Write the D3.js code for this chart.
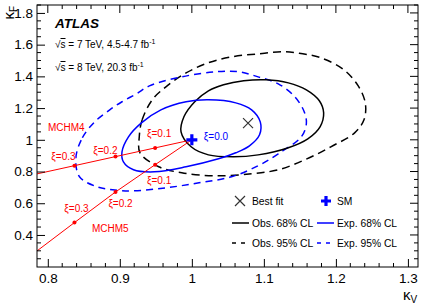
<!DOCTYPE html>
<html>
<head>
<meta charset="utf-8">
<script src="https://cdn.jsdelivr.net/npm/d3@7"></script>
<style>
  body { margin: 0; background: #fff; }
  svg text { font-family: 'Liberation Sans', Arial, Helvetica, sans-serif; }
</style>
</head>
<body>
<div class="chart"></div>
<script>
const width = 425;
const height = 305;

// contours, [kappaV, kappaF]
const obs68 = [[0.985,1.050],[0.989,1.145],[1.004,1.240],[1.023,1.309],[1.044,1.347],[1.072,1.372],
  [1.103,1.378],[1.134,1.359],[1.159,1.315],[1.177,1.246],[1.183,1.170],[1.178,1.082],[1.161,1.006],
  [1.134,0.950],[1.092,0.905],[1.058,0.893],[1.023,0.905],[0.999,0.956]];
const obs95 = [[0.927,1.019],[0.931,1.126],[0.945,1.252],[0.964,1.334],[0.992,1.422],[1.023,1.486],
  [1.055,1.523],[1.092,1.542],[1.127,1.555],[1.154,1.542],[1.179,1.517],[1.210,1.445],[1.231,1.340],
  [1.241,1.227],[1.239,1.126],[1.226,1.044],[1.193,0.956],[1.157,0.874],[1.120,0.811],[1.083,0.786],
  [1.033,0.773],[0.986,0.792],[0.954,0.830],[0.928,0.918]];
const exp68 = [[0.903,0.924],[0.912,1.019],[0.930,1.107],[0.957,1.189],[0.992,1.240],[1.023,1.252],
  [1.061,1.233],[1.083,1.189],[1.095,1.113],[1.094,1.032],[1.080,0.962],[1.061,0.918],[1.037,0.880],
  [0.992,0.830],[0.948,0.798],[0.919,0.811],[0.905,0.861]];
const exp95 = [[0.839,0.887],[0.848,1.013],[0.865,1.113],[0.886,1.189],[0.903,1.240],[0.923,1.290],
  [0.941,1.340],[0.986,1.397],[1.033,1.429],[1.065,1.429],[1.092,1.397],[1.120,1.353],[1.143,1.271],
  [1.156,1.177],[1.159,1.101],[1.152,1.019],[1.120,0.912],[1.092,0.836],[1.055,0.767],[1.010,0.729],
  [0.964,0.697],[0.917,0.678],[0.890,0.685],[0.868,0.704],[0.844,0.767]];

const bestFit = [1.078, 1.105];
const smPoint = [1.0, 1.0];

// composite Higgs benchmark lines [kappaV, kappaF, xi]
const mchm4 = [[1.0,1.0,0.0],[0.949,0.949,0.1],[0.894,0.894,0.2],[0.837,0.837,0.3],[0.76,0.76,null]];
const mchm5 = [[1.0,1.0,0.0],[0.949,0.843,0.1],[0.894,0.671,0.2],[0.837,0.478,0.3],[0.775,0.265,null]];

const xTicks = [0.8, 0.9, 1, 1.1, 1.2, 1.3];
const yTicks = [0.4, 0.6, 0.8, 1, 1.2, 1.4, 1.6, 1.8];

const contours = [
  { pts: obs95, color: '#000', dash: '8,5', label: 'Obs. 95% CL' },
  { pts: exp95, color: '#0000ff', dash: '7,5', label: 'Exp. 95% CL' },
  { pts: obs68, color: '#000', dash: null, label: 'Obs. 68% CL' },
  { pts: exp68, color: '#0000ff', dash: null, label: 'Exp. 68% CL' }
];

const frameL = 37, frameR = 418, frameT = 5, frameB = 267;

const svg = d3.select('.chart').append('svg')
  .attr('xmlns', 'http://www.w3.org/2000/svg')
  .attr('width', width)
  .attr('height', height);

const x = d3.scaleLinear().domain([0.785, 1.314]).range([frameL, frameR]);
const y = d3.scaleLinear().domain([0.198, 1.85]).range([frameB, frameT]);

svg.append('clipPath').attr('id', 'clip')
  .append('rect').attr('x', frameL).attr('y', frameT)
  .attr('width', frameR - frameL).attr('height', frameB - frameT);

const plot = svg.append('g').attr('clip-path', 'url(#clip)');

const closed = d3.line()
  .x((d) => x(d[0]))
  .y((d) => y(d[1]))
  .curve(d3.curveCatmullRomClosed.alpha(0.5));

contours.forEach((c) => {
  plot.append('path')
    .attr('d', closed(c.pts))
    .attr('fill', 'none')
    .attr('stroke', c.color)
    .attr('stroke-width', 1.5)
    .attr('stroke-dasharray', c.dash);
});

// red model lines
const red = '#ff0000';
const modelLine = d3.line().x((d) => x(d[0])).y((d) => y(d[1]));
[mchm4, mchm5].forEach((m) => {
  plot.append('path').attr('d', modelLine(m))
    .attr('fill', 'none').attr('stroke', red).attr('stroke-width', 1);
  plot.selectAll(null)
    .data(m.filter((d) => d[2] !== null && d[2] > 0))
    .enter().append('circle')
    .attr('cx', (d) => x(d[0])).attr('cy', (d) => y(d[1]))
    .attr('r', 2).attr('fill', red);
});

// model labels
const redText = (tx, ty, s) => svg.append('text').attr('x', tx).attr('y', ty)
  .attr('fill', red).attr('font-size', 10).text(s);
redText(48, 131, 'MCHM4');
redText(92, 232, 'MCHM5');
const xiLabel = (d, dx, dy, anchor) => svg.append('text')
  .attr('x', x(d[0]) + dx).attr('y', y(d[1]) + dy)
  .attr('text-anchor', anchor)
  .attr('fill', red).attr('font-size', 10)
  .text('\u03be=' + d[2].toFixed(1));
xiLabel(mchm4[1], 4, -11, 'middle');
xiLabel(mchm4[2], 2, -3, 'end');
xiLabel(mchm4[3], -11, -6, 'middle');
xiLabel(mchm5[1], 4, 19, 'middle');
xiLabel(mchm5[2], 5, 15, 'middle');
xiLabel(mchm5[3], 2, -11, 'middle');

svg.append('text').attr('x', x(smPoint[0]) + 12).attr('y', y(smPoint[1]) + 0)
  .attr('fill', '#0000ff').attr('font-size', 10).text('\u03be=0.0');

// markers
const cross = (g, cx, cy, s) => {
  g.append('path')
    .attr('d', `M${cx - s},${cy - s}L${cx + s},${cy + s}M${cx - s},${cy + s}L${cx + s},${cy - s}`)
    .attr('stroke', '#333').attr('stroke-width', 1.2).attr('fill', 'none');
};
const plus = (g, cx, cy, s) => {
  g.append('path')
    .attr('d', `M${cx - s},${cy}L${cx + s},${cy}M${cx},${cy - s}L${cx},${cy + s}`)
    .attr('stroke', '#0000ff').attr('stroke-width', 3.2).attr('fill', 'none');
};
cross(svg, x(bestFit[0]), y(bestFit[1]), 5);
plus(svg, x(smPoint[0]), y(smPoint[1]), 5.5);

// axes
const xAxis = d3.axisBottom(x).tickValues(xTicks).tickSize(-8).tickPadding(6)
  .tickFormat((d) => d3.format('')(d));
const gx = svg.append('g').attr('transform', `translate(0,${frameB})`).call(xAxis);
const yAxis = d3.axisLeft(y).tickValues(yTicks).tickSize(-8).tickPadding(4)
  .tickFormat((d) => d3.format('')(d));
const gy = svg.append('g').attr('transform', `translate(${frameL},0)`).call(yAxis);
[gx, gy].forEach((g) => {
  g.select('.domain').remove();
  g.selectAll('text').attr('font-size', 13.5).attr('fill', '#000')
    .attr('font-family', "'Liberation Sans', Arial, sans-serif");
  g.selectAll('line').attr('stroke', '#000');
});

const xMinor = d3.range(0.8, 1.3101, 0.02).filter((v) => Math.abs(Math.round(v * 10) - v * 10) > 1e-6);
const yMinor = d3.range(0.2, 1.851, 0.05).filter((v) => Math.abs(Math.round(v * 5) - v * 5) > 1e-6);
const ticks = svg.append('g').attr('stroke', '#000').attr('stroke-width', 1);
xTicks.forEach((v) => {
  ticks.append('line').attr('x1', x(v)).attr('x2', x(v)).attr('y1', frameT).attr('y2', frameT + 8);
});
xMinor.forEach((v) => {
  ticks.append('line').attr('x1', x(v)).attr('x2', x(v)).attr('y1', frameB).attr('y2', frameB - 4);
  ticks.append('line').attr('x1', x(v)).attr('x2', x(v)).attr('y1', frameT).attr('y2', frameT + 4);
});
yTicks.forEach((v) => {
  ticks.append('line').attr('x1', frameR).attr('x2', frameR - 8).attr('y1', y(v)).attr('y2', y(v));
});
yMinor.forEach((v) => {
  ticks.append('line').attr('x1', frameL).attr('x2', frameL + 4).attr('y1', y(v)).attr('y2', y(v));
  ticks.append('line').attr('x1', frameR).attr('x2', frameR - 4).attr('y1', y(v)).attr('y2', y(v));
});

svg.append('rect').attr('x', frameL).attr('y', frameT)
  .attr('width', frameR - frameL).attr('height', frameB - frameT)
  .attr('fill', 'none').attr('stroke', '#000').attr('stroke-width', 1);

// axis titles
const xt = svg.append('text').attr('x', 403).attr('y', 300).attr('font-size', 15);
xt.append('tspan').text('\u03ba');
xt.append('tspan').attr('dy', 3).attr('font-size', 10).text('V');
const yt = svg.append('text').attr('transform', 'translate(14,6) rotate(-90)')
  .attr('text-anchor', 'end').attr('font-size', 15);
yt.append('tspan').text('\u03ba');
yt.append('tspan').attr('dy', 3).attr('font-size', 10).text('F');

// ATLAS label
svg.append('text').attr('x', 55).attr('y', 28).attr('font-size', 13.5)
  .attr('font-weight', 'bold').attr('font-style', 'italic').text('ATLAS');
const energy = [['7', '4.5-4.7', 48], ['8', '20.3', 71]];
energy.forEach((e) => {
  const t = svg.append('text').attr('x', 55).attr('y', e[2]).attr('font-size', 10);
  t.append('tspan').text('\u221a');
  t.append('tspan').attr('text-decoration', 'overline').text('s');
  t.append('tspan').text(` = ${e[0]} TeV, ${e[1]} fb`);
  t.append('tspan').attr('dy', -4).attr('font-size', 7).text('-1');
});

// legend
const lg = svg.append('g');
cross(lg, 240, 201, 5);
lg.append('text').attr('x', 252).attr('y', 205).attr('font-size', 10.3).text('Best fit');
plus(lg, 326, 201, 5);
lg.append('text').attr('x', 337).attr('y', 205).attr('font-size', 10.3).text('SM');
const legendRows = [[contours[2], contours[3], 223], [contours[0], contours[1], 243]];
legendRows.forEach((r) => {
  [[r[0], 232], [r[1], 317]].forEach((c) => {
    lg.append('line').attr('x1', c[1]).attr('x2', c[1] + 17).attr('y1', r[2]).attr('y2', r[2])
      .attr('stroke', c[0].color).attr('stroke-width', 1.5)
      .attr('stroke-dasharray', c[0].dash ? '4,5' : null);
    lg.append('text').attr('x', c[1] + 20).attr('y', r[2] + 4).attr('font-size', 10.3).text(c[0].label);
  });
});
</script>
</body>
</html>
